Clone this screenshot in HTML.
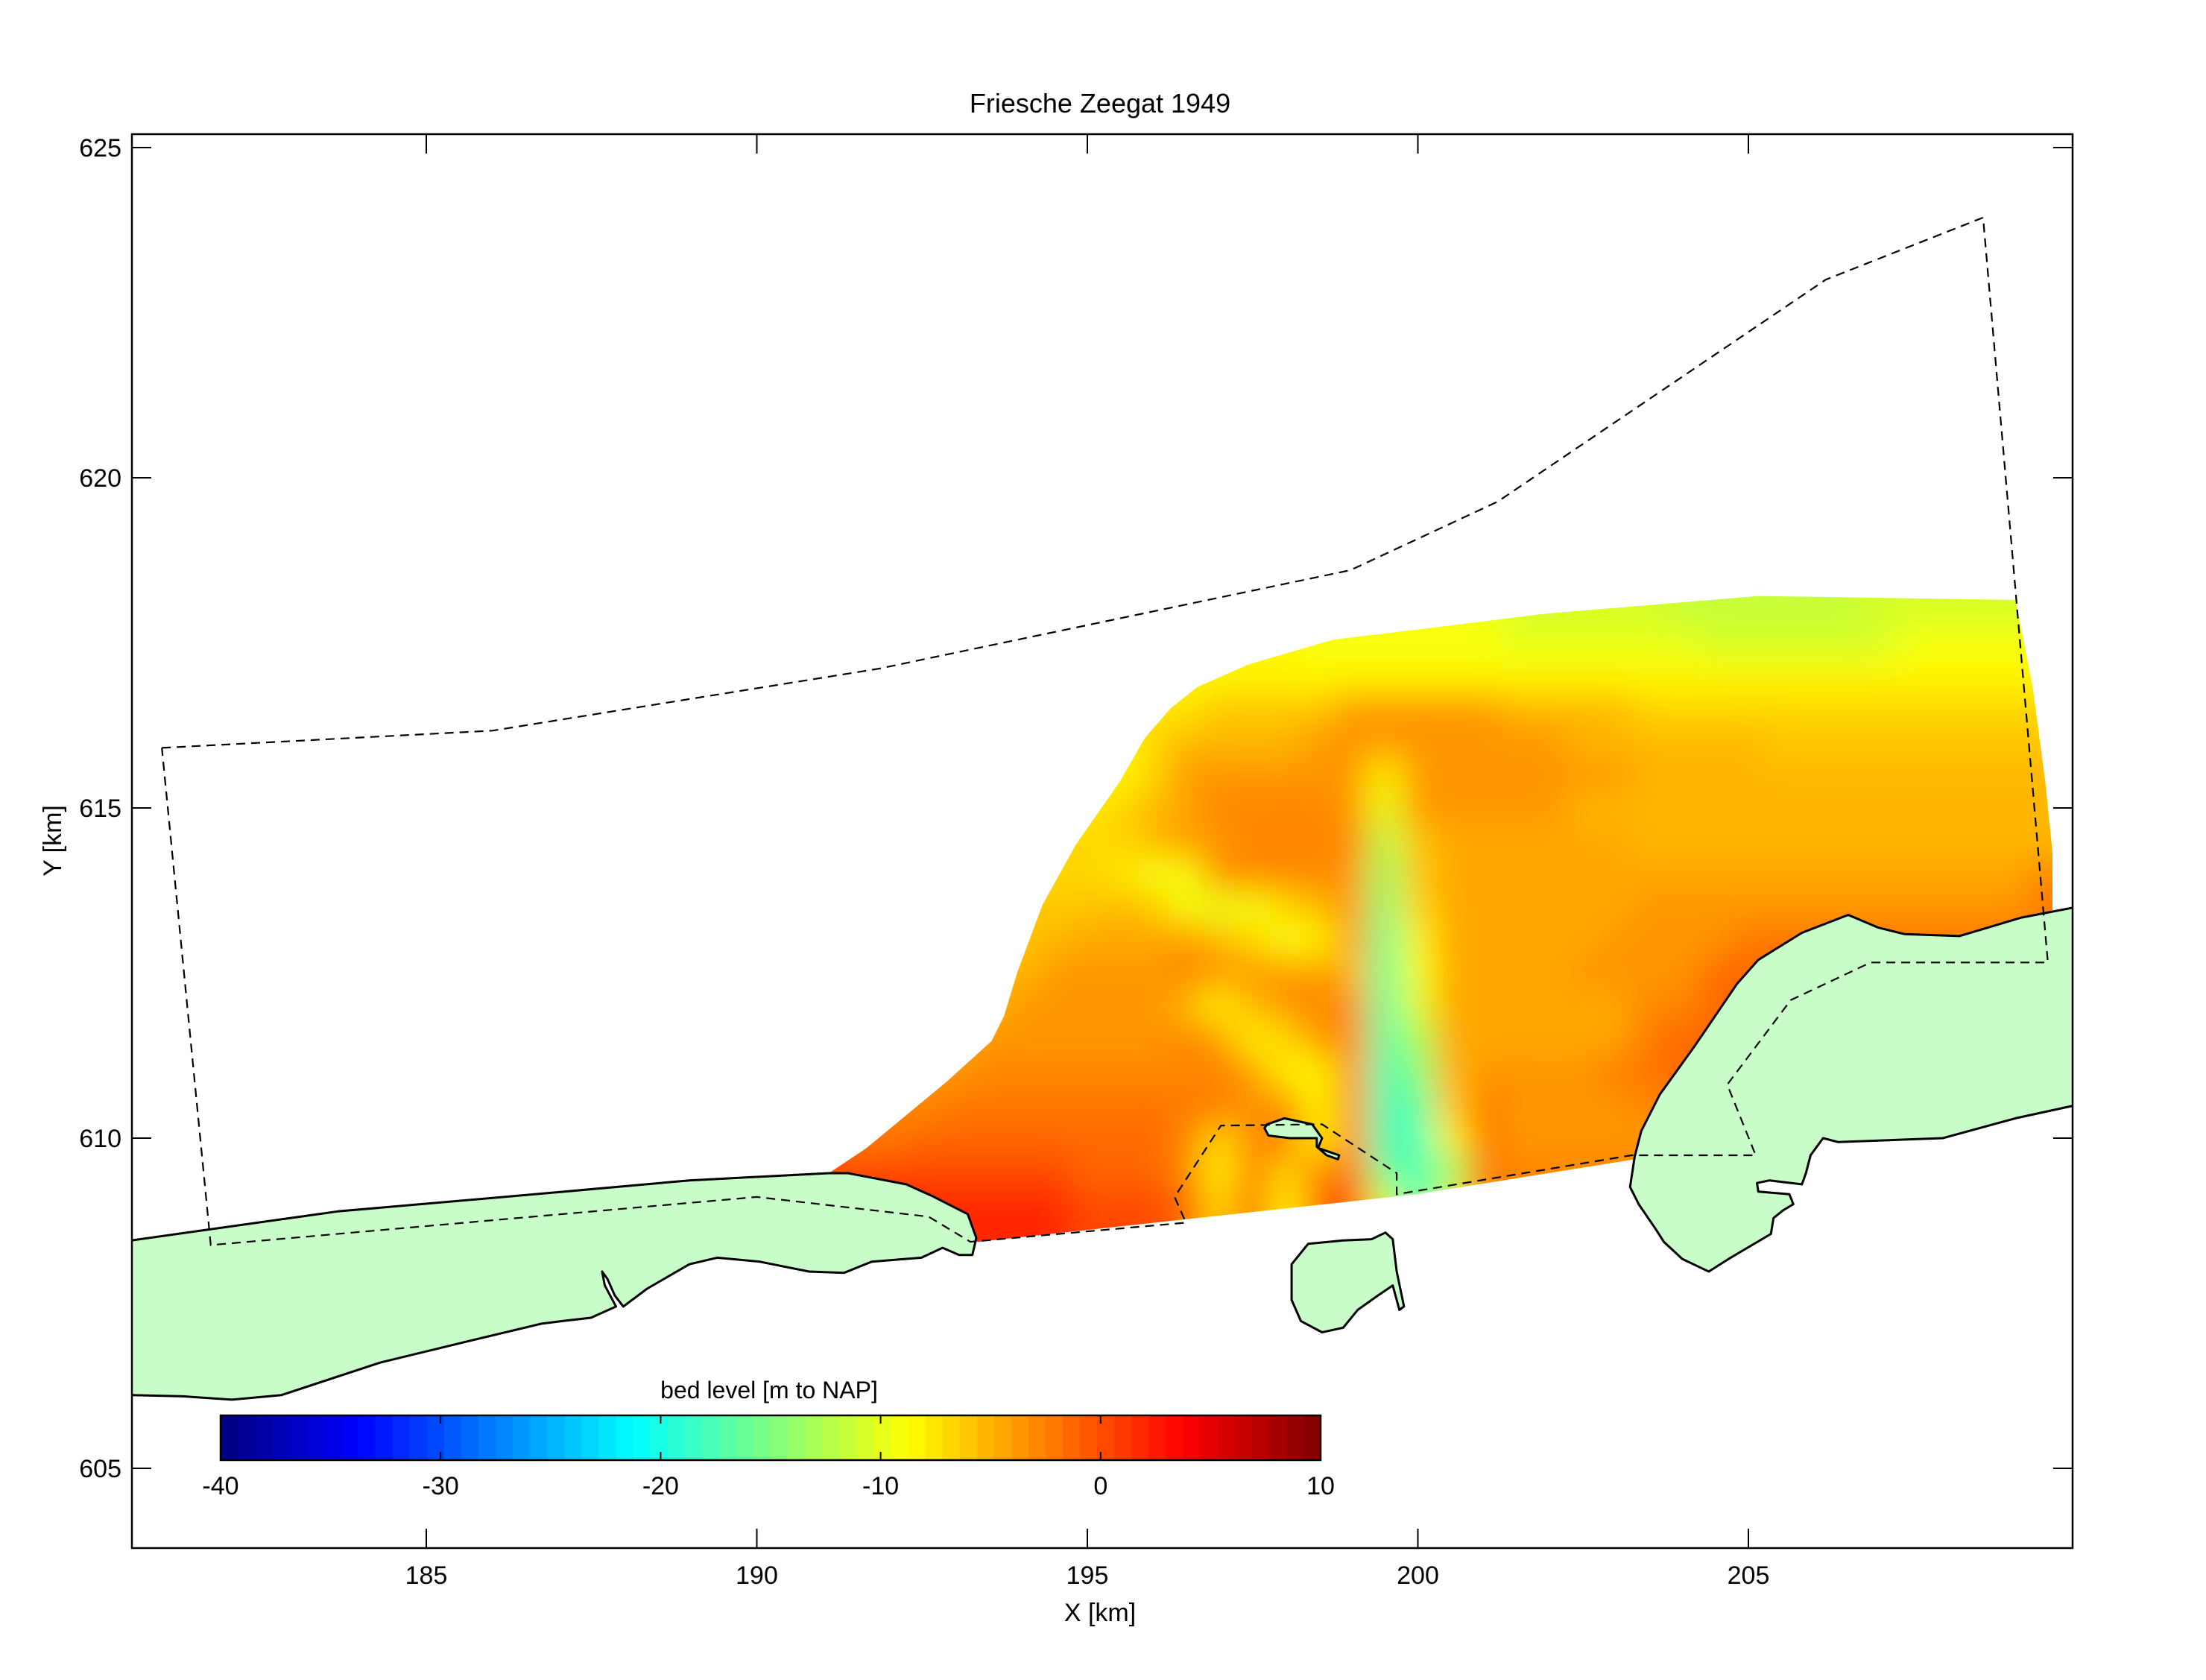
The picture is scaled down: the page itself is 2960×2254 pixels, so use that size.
<!DOCTYPE html>
<html><head><meta charset="utf-8"><style>
html,body{margin:0;padding:0;background:#fff;}
svg{display:block;font-family:"Liberation Sans",Arial,sans-serif;}
</style></head><body>
<svg id="chart" width="2960" height="2254" viewBox="0 0 2960 2254" xmlns="http://www.w3.org/2000/svg">
<defs>
<clipPath id="plotClip"><rect x="177" y="180" width="2604" height="1897"/></clipPath>
<clipPath id="domainClip"><polygon id="domainPoly" points=""/></clipPath>
<filter id="blur" x="-10%" y="-10%" width="120%" height="120%"><feGaussianBlur stdDeviation="24"/></filter>
</defs>
<rect x="0" y="0" width="2960" height="2254" fill="#fff"/>
<g clip-path="url(#plotClip)">
<g clip-path="url(#domainClip)"><g id="cells" filter="url(#blur)"></g></g>
<g id="lands"></g>
<polyline id="gridOutline" fill="none" stroke="#000" stroke-width="2.2" stroke-dasharray="12 8"/>
</g>
<rect x="177" y="180" width="2604" height="1897" fill="none" stroke="#000" stroke-width="2.5"/>
<g id="ticks"></g>
<g id="cbar"></g>
<text x="1476" y="151" font-size="36" text-anchor="middle">Friesche Zeegat 1949</text>
<text x="1476" y="2175" font-size="34" text-anchor="middle">X [km]</text>
<text x="0" y="0" font-size="34" text-anchor="middle" transform="translate(82,1128) rotate(-90)">Y [km]</text>
<text x="1032" y="1876" font-size="32" text-anchor="middle">bed level [m to NAP]</text>
</svg>
<script>
const xTicks=[185,190,195,200,205];
const yTicks=[605,610,615,620,625];
const cbarTicks=[-40,-30,-20,-10,0,10];
const gridX=[191,191.5,192,192.5,193,193.5,194,194.5,195,195.5,196,196.5,197,197.5,198,198.5,199,199.5,200,200.5,201,201.5,202,202.5,203,203.5,204,204.5,205,205.5,206,206.5,207,207.5,208,208.5,209,209.5];
const gridY=[618,617.5,617,616.5,616,615.5,615,614.5,614,613.5,613,612.5,612,611.5,611,610.5,610,609.5,609,608.5];
const bedLevel=[
[-9,-9,-9,-9,-9,-9,-9,-9,-9,-9,-9,-9,-9,-9,-9,-9,-9,-9,-9,-9,-9,-10.5,-10.5,-10.5,-10.5,-10.5,-11.5,-11.5,-11.5,-11.5,-11.5,-11.5,-10.5,-10.5,-10.5,-10.5,-10.5,-10.5],
[-8.5,-8.5,-8.5,-8.5,-8.5,-8.5,-8.5,-8.5,-8.5,-8.5,-8.5,-8.5,-8.5,-8.5,-8.5,-9,-9,-9,-9,-9,-9,-10,-10,-10,-10,-10,-10,-10.5,-10.5,-10.5,-10.5,-10.5,-10.5,-9.5,-9.5,-9.5,-9.5,-9.5],
[-8,-8,-8,-8,-8,-8,-8,-8,-8,-8,-8,-8,-8,-8,-8,-8,-8,-8,-8,-8,-8,-8.5,-8.5,-8.5,-8.5,-8.5,-8.5,-8.5,-8.5,-8.5,-8.5,-8.5,-8.5,-8.5,-8.5,-8.5,-8.5,-8.5],
[-7.5,-7.5,-7.5,-7.5,-7.5,-7.5,-7.5,-7.5,-7.5,-7.5,-7.5,-7.5,-6,-6,-6,-6,-3.5,-3.5,-3.5,-3.5,-3.5,-5,-5,-5,-5,-6.5,-6.5,-6.5,-6.5,-6.5,-6.5,-7,-7,-7,-7,-7,-7,-7],
[-8,-8,-8,-8,-8,-8,-8,-8,-8,-8,-7,-5,-5,-5,-5,-3.5,-3.5,-3.5,-3.5,-4,-4,-4,-4,-5,-5,-5,-5,-5,-5,-6,-6,-6,-6,-6,-6,-6,-6,-6],
[-8,-8,-8,-8,-8,-8,-8,-8,-8,-8,-6.5,-3.5,-3.5,-3.5,-3.5,-3.5,-3.5,-8,-4,-4,-4,-4,-4,-4,-4,-5.5,-5.5,-5.5,-5.5,-5.5,-5.5,-5.5,-5.5,-5.5,-5.5,-5.5,-5.5,-5.5],
[-7.5,-7.5,-7.5,-7.5,-7.5,-7.5,-7.5,-7.5,-7.5,-7,-5.5,-4.5,-3,-3,-3,-3,-4,-10,-4,-4,-4,-4,-4,-5,-5,-5,-5,-5,-5,-5,-5,-5,-5,-5,-5,-5,-5,-5],
[-7,-7,-7,-7,-7,-7,-7,-7,-7,-6.5,-5.5,-3.5,-3.5,-3,-3,-3,-3,-12,-6,-4.5,-4.5,-4.5,-4.5,-4.5,-4.5,-5,-5,-5,-5,-5,-5,-5,-5,-5,-5,-5,-5,-5],
[-7,-7,-7,-7,-7,-7,-7,-7,-6.5,-7.5,-9,-9,-3,-3,-3,-3,-3.5,-14,-6,-4.5,-4.5,-4.5,-4.5,-4.5,-4.5,-4.5,-4.5,-4.5,-4.5,-4.5,-4.5,-4.5,-4.5,-4.5,-4.5,-4.5,-4.5,-3],
[-6,-6,-6,-6,-6,-6,-6,-6,-6,-5.5,-6,-9.5,-10,-9.5,-7,-5,-4,-15,-7,-4.5,-4.5,-4.5,-4.5,-4.5,-4.5,-3.5,-3.5,-3.5,-3.5,-4,-4,-4,-4,-4,-4,-4,-4,-2],
[-6,-6,-6,-6,-6,-6,-6,-5,-4.5,-4.5,-4.5,-4,-5,-7,-9,-8,-4,-16,-8,-4.5,-4.5,-4.5,-4.5,-4.5,-3.5,-3.5,-3.5,-3.5,-2.5,-2,-2,-2,-2,-2,-2,-2,-2,-2],
[-5,-5,-5,-5,-5,-5,-5,-4,-4,-4,-4,-3,-4,-4,-4,-4,-5,-16.5,-9,-4.5,-4.5,-4.5,-4.5,-4,-4,-4,-4,-1,-1,-1,-1,-1,-1,-1,-1,-1,-1,-1],
[-5,-5,-5,-5,-5,-5,-4,-4,-4,-4,-4,-5,-8,-5,-3.5,-3,-3,-17,-10,-4.5,-4.5,-4.5,-4.5,-4.5,-4.5,-3,-3,-1,-1,-1,-1,-1,-1,-1,-1,-1,-1,-1],
[-4.5,-4.5,-4.5,-4.5,-4.5,-3.5,-3.5,-3.5,-3.5,-3.5,-3.5,-3,-4,-8.5,-7,-3.5,-3,-17,-13,-4.5,-4.5,-4.5,-4.5,-4.5,-4.5,-2,-1,-1,-1,-1,-1,-1,-1,-1,-1,-1,-1,-1],
[-4,-4,-4,-4,-4,-3,-3,-3,-3,-3,-3,-3,-3,-4,-8,-8.5,-3,-17.5,-15,-5,-4,-4,-4,-4,-2,-2,-1,-1,-1,-1,-1,-1,-1,-1,-1,-1,-1,-1],
[-3,-3,-3,-3,-2.5,-2.5,-2.5,-2.5,-2.5,-2.5,-2.5,-2.5,-2.5,-4,-3,-8,-3,-18,-17,-6,-2.5,-4,-4,-4,-4,-3,-2,-2,-2,-2,-2,-2,-2,-2,-2,-2,-2,-2],
[-2,-2,-2,-1.5,-1.5,-1.5,-1.5,-1.5,-1.5,-1.5,-1.5,-3,-7,-3,-2,-8,-3,-18,-18,-8,-2,-3.5,-3.5,-3.5,-3.5,-3.5,-3,-3,-3,-3,-3,-3,-3,-3,-3,-3,-3,-3],
[0,0,0,0.5,0.5,0.5,0.5,0.5,-1,-1,-1,-3,-8,-2,-7,-3,-2,-16,-18,-14,-2,-3,-3,-3,-3,-3,-3,-3,-3,-3,-3,-3,-3,-3,-3,-3,-3,-3],
[1.5,1.5,1.5,1.5,1.5,1.5,1.5,1.5,0,0,0,-1,-7,-1,-8,-1,0,-10,-18,-10,-2,-3,-3,-3,-3,-3,-3,-3,-3,-3,-3,-3,-3,-3,-3,-3,-3,-3],
[1.5,1.5,1.5,1.5,1.5,1.5,1.5,1.5,0,0,0,-1,-7,-1,-8,-1,0,-10,-18,-10,-2,-3,-3,-3,-3,-3,-3,-3,-3,-3,-3,-3,-3,-3,-3,-3,-3,-3]
];
const domainX=[191.09,191.66,192.89,193.55,193.74,193.94,194.32,194.83,195.49,195.87,196.26,196.66,197.43,198.72,199.98,201.91,205.15,209.04,209.30,209.49,209.60,209.60,206.0,203.5,203.28,199.98,193.34];
const domainY=[609.47,609.85,610.87,611.47,611.85,612.51,613.53,614.45,615.40,616.06,616.51,616.83,617.17,617.55,617.70,617.94,618.21,618.15,616.83,615.40,614.32,613.40,612.5,609.5,609.68,609.15,608.43];
const outlineX=[181.0,186.0,191.85,198.98,201.21,206.17,208.55,209.53,206.85,205.64,204.68,205.11,203.23,199.68,199.68,198.55,197.02,196.32,196.49,193.23,192.6,190.0,181.74,181.0];
const outlineY=[615.91,616.17,617.11,618.60,619.64,623.0,623.94,612.66,612.66,612.09,610.81,609.74,609.74,609.15,609.47,610.21,610.19,609.11,608.72,608.43,608.81,609.11,608.38,615.91];
const terschellingX=[180.2,180.53,183.66,186.64,188.98,191.09,191.38,192.26,192.64,193.19,193.32,193.26,193.06,192.81,192.49,191.74,191.32,190.79,190.04,189.40,188.98,188.34,187.98,187.85,187.74,187.66,187.70,187.87,187.49,187.06,186.74,185.57,184.30,182.81,182.06,181.32,180.53,180.2];
const terschellingY=[608.45,608.45,608.89,609.15,609.36,609.47,609.47,609.30,609.13,608.85,608.49,608.23,608.23,608.34,608.19,608.13,607.96,607.98,608.13,608.19,608.09,607.72,607.45,607.62,607.87,607.98,607.77,607.45,607.28,607.23,607.19,606.91,606.60,606.11,606.04,606.09,606.11,606.11];
const amelandX=[210.2,209.91,209.13,208.19,207.36,206.96,206.51,205.81,205.15,204.83,204.19,203.66,203.38,203.28,203.21,203.34,203.60,203.72,204.00,204.40,204.70,205.34,205.38,205.53,205.68,205.62,205.15,205.13,205.32,205.81,205.87,205.94,206.13,206.36,207.94,209.04,209.91,210.2];
const amelandY=[613.49,613.49,613.34,613.06,613.09,613.19,613.38,613.11,612.70,612.34,611.40,610.66,610.11,609.72,609.26,609.00,608.62,608.43,608.17,607.98,608.17,608.55,608.79,608.91,609.00,609.15,609.19,609.32,609.36,609.30,609.47,609.74,610.00,609.94,610.00,610.30,610.49,610.49];
const islandX=[197.68,197.72,197.98,198.40,198.55,198.49,198.81,198.79,198.62,198.47,198.47,198.06,197.74];
const islandY=[610.15,610.21,610.30,610.21,610.00,609.85,609.74,609.68,609.74,609.87,610.00,610.00,610.04];
const plaatX=[198.09,198.34,198.87,199.30,199.51,199.62,199.68,199.79,199.72,199.62,199.40,199.09,198.87,198.55,198.23,198.09];
const plaatY=[608.09,608.40,608.45,608.47,608.57,608.47,607.98,607.45,607.40,607.77,607.62,607.40,607.13,607.06,607.23,607.55];

const NS='http://www.w3.org/2000/svg';
const sx=x=>572+(x-185)*88.7;
const sy=y=>198+(625-y)*88.6;
const cbMin=-40,cbMax=10,cbX0=296,cbX1=1772,cbY0=1899,cbY1=1959;
const cx=v=>cbX0+(v-cbMin)/(cbMax-cbMin)*(cbX1-cbX0);
function clamp(a){return Math.max(0,Math.min(1,a));}
function jetIdx(i){const t=(i+0.5)/64;
 const r=clamp(1.5-Math.abs(4*t-3)),g=clamp(1.5-Math.abs(4*t-2)),b=clamp(1.5-Math.abs(4*t-1));
 return 'rgb('+Math.round(r*255)+','+Math.round(g*255)+','+Math.round(b*255)+')';}
function colorOf(v){let i=Math.floor((v-cbMin)/(cbMax-cbMin)*64);i=Math.max(0,Math.min(63,i));return jetIdx(i);}
function pts(xs,ys){return xs.map((x,i)=>sx(x).toFixed(1)+','+sy(ys[i]).toFixed(1)).join(' ');}
function mk(tag,attrs,parent){const e=document.createElementNS(NS,tag);for(const k in attrs)e.setAttribute(k,attrs[k]);parent.appendChild(e);return e;}

document.getElementById('domainPoly').setAttribute('points',pts(domainX,domainY));
document.getElementById('gridOutline').setAttribute('points',pts(outlineX,outlineY));

const cells=document.getElementById('cells');
gridY.forEach((gy,r)=>{gridX.forEach((gx,c)=>{
 let x0=gx-0.25,x1=gx+0.25,y0=gy+0.25,y1=gy-0.25;
 if(c===0)x0-=1.5; if(c===gridX.length-1)x1+=1.5;
 if(r===0)y0+=1.5; if(r===gridY.length-1)y1-=1.5;
 const e=mk('rect',{x:sx(x0),y:sy(y0),width:sx(x1)-sx(x0)+0.5,height:sy(y1)-sy(y0)+0.5,fill:colorOf(bedLevel[r][c])},cells);
 
 
});});

const lands=document.getElementById('lands');
[[terschellingX,terschellingY,'terschelling-island'],[amelandX,amelandY,'ameland-island'],[islandX,islandY,'griend-islet'],[plaatX,plaatY,'engelsmanplaat']].forEach(L=>{
 const e=mk('polygon',{points:pts(L[0],L[1]),fill:'#c8fcc8',stroke:'#000','stroke-width':3,'stroke-linejoin':'round'},lands);
 
 
});

const ticks=document.getElementById('ticks');
xTicks.forEach(v=>{const x=sx(v);
 mk('line',{x1:x,x2:x,y1:2077,y2:2051,stroke:'#000','stroke-width':2},ticks);
 mk('line',{x1:x,x2:x,y1:180,y2:206,stroke:'#000','stroke-width':2},ticks);
 const t=mk('text',{x:x,y:2125,'font-size':34,'text-anchor':'middle'},ticks);t.textContent=v;
 
 
});
yTicks.forEach(v=>{const y=sy(v);
 mk('line',{x1:177,x2:203,y1:y,y2:y,stroke:'#000','stroke-width':2},ticks);
 mk('line',{x1:2781,x2:2755,y1:y,y2:y,stroke:'#000','stroke-width':2},ticks);
 const t=mk('text',{x:163,y:y+12,'font-size':34,'text-anchor':'end'},ticks);t.textContent=v;
 
 
});

const cb=document.getElementById('cbar');
for(let i=0;i<64;i++){const w=(cbX1-cbX0)/64;
 const e=mk('rect',{x:cbX0+i*w,y:cbY0,width:w+0.6,height:cbY1-cbY0,fill:jetIdx(i)},cb);
 
 
}
mk('rect',{x:cbX0,y:cbY0,width:cbX1-cbX0,height:cbY1-cbY0,fill:'none',stroke:'#000','stroke-width':2.5},cb);
cbarTicks.forEach(v=>{const x=cx(v);
 mk('line',{x1:x,x2:x,y1:cbY0,y2:cbY0+11,stroke:'#000','stroke-width':2},cb);
 mk('line',{x1:x,x2:x,y1:cbY1,y2:cbY1-11,stroke:'#000','stroke-width':2},cb);
 const t=mk('text',{x:x,y:2005,'font-size':34,'text-anchor':'middle'},cb);t.textContent=v;
 
 
});
</script>
</body></html>
